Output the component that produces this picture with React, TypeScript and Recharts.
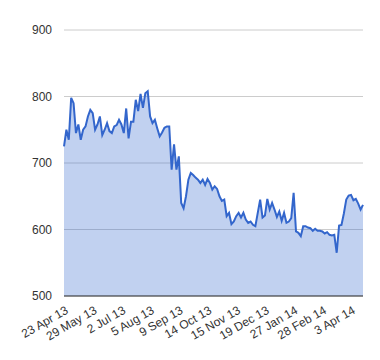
import { AreaChart, Area, XAxis, YAxis, CartesianGrid } from "recharts";

// one value every ~2 trading days
const prices = [
  725, 750, 735, 798, 790, 745, 758, 735, 750, 755,
  770, 780, 775, 750, 758, 770, 742, 750, 760, 748,
  745, 755, 757, 765, 758, 745, 782, 737, 762, 762,
  795, 778, 804, 783, 805, 808, 770, 760, 765, 752,
  740, 746, 753, 755, 755, 690, 728, 690, 710, 640,
  632, 650, 675, 685, 682, 678, 675, 670, 675, 667,
  676, 670, 660, 665, 661, 650, 643, 645, 620, 625,
  608, 612, 620, 625, 618, 625, 615, 610, 612, 607,
  605, 625, 645, 618, 621, 646, 630, 640, 630, 619,
  627, 613, 625, 610, 612, 617, 655, 597, 595, 590,
  605, 605, 603, 602, 598, 601, 598, 598, 597, 594,
  596, 592, 591, 592, 565, 606, 607, 624, 645, 651,
  652, 644, 646, 639, 630, 637,
];

const tickLabels = [
  "23 Apr 13",
  "29 May 13",
  "2 Jul 13",
  "5 Aug 13",
  "9 Sep 13",
  "14 Oct 13",
  "15 Nov 13",
  "19 Dec 13",
  "27 Jan 14",
  "28 Feb 14",
  "3 Apr 14",
];
const tickStep = 12;
const yTicks = [500, 600, 700, 800, 900];

const data = prices.map((v, i) => ({ i, price: v }));
const xTicks = tickLabels.map((_, k) => k * tickStep);

const DateTick = (props: any) => {
  const { x, y, payload } = props;
  const label = tickLabels[Math.round(payload.value / tickStep)];
  return (
    <g transform={`translate(${x},${y})`}>
      <text
        x={0}
        y={0}
        dy={10}
        textAnchor="end"
        fill="#333"
        fontSize={12}
        fontFamily="Arial, 'Liberation Sans', sans-serif"
        transform="rotate(-30)"
      >
        {label}
      </text>
    </g>
  );
};

export default function App() {
  return (
    <AreaChart
      width={372}
      height={352}
      data={data}
      margin={{ top: 22, right: 17, bottom: 4, left: 0 }}
    >
      <CartesianGrid vertical={false} stroke="#ccc" />
      <XAxis
        dataKey="i"
        type="number"
        domain={[0, prices.length - 1]}
        ticks={xTicks}
        interval={0}
        height={60}
        tickLine={false}
        axisLine={{ stroke: "#333" }}
        tick={<DateTick />}
      />
      <YAxis
        domain={[500, 900]}
        ticks={yTicks}
        width={56}
        tickMargin={6}
        axisLine={false}
        tickLine={false}
        tick={{
          fill: "#333",
          fontSize: 12,
          fontFamily: "Arial, 'Liberation Sans', sans-serif",
        }}
      />
      <Area
        type="linear"
        dataKey="price"
        stroke="#3366cc"
        strokeWidth={2}
        fill="#3366cc"
        fillOpacity={0.3}
        isAnimationActive={false}
        dot={false}
        activeDot={false}
      />
    </AreaChart>
  );
}
